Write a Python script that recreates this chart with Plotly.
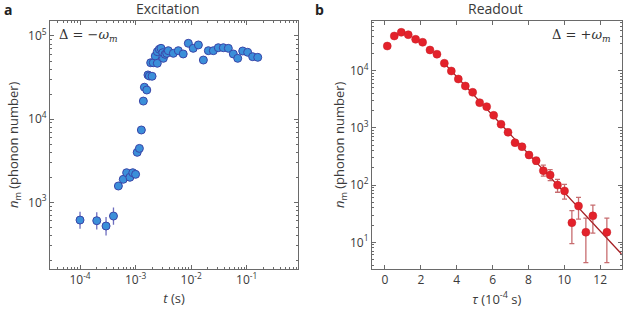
import plotly.graph_objects as go

# ---------- Panel a: Excitation ----------
t_s = [1.0e-4, 2.0e-4, 2.94e-4, 4.0e-4, 4.9e-4, 6.0e-4, 6.9e-4, 7.9e-4, 8.9e-4, 1.0e-3,
       1.07e-3, 1.17e-3, 1.27e-3, 1.38e-3, 1.44e-3, 1.59e-3, 1.67e-3, 1.77e-3, 1.98e-3, 1.87e-3,
       2.08e-3, 2.26e-3, 2.46e-3, 2.46e-3, 2.67e-3, 2.87e-3, 3.08e-3, 3.16e-3, 3.39e-3, 3.63e-3,
       3.88e-3, 4.78e-3, 5.88e-3, 7.2e-3, 8.9e-3, 1.09e-2, 1.35e-2, 1.66e-2, 2.04e-2, 2.51e-2,
       3.08e-2, 3.8e-2, 4.67e-2, 5.74e-2, 6.89e-2, 8.47e-2, 0.104, 0.128, 0.158]
n_exc = [612, 601, 519, 684, 1571, 1890, 2270, 2000, 2270, 2170,
         3990, 4450, 7410, 16500, 24200, 22400, 34000, 33000, 32800, 47700,
         47700, 57400, 47000, 64800, 69200, 71100, 63000, 53900, 60200, 61900,
         66600, 61900, 66600, 60800, 81700, 71100, 78000, 51400, 66600, 66600,
         72300, 72300, 71100, 60800, 53900, 66000, 63700, 56400, 55400]
err_exc_up = [160, 160, 145, 180, 130, 150, 180, 160, 180, 170] + [0] * 39
err_exc_dn = [130, 130, 120, 145, 115, 130, 160, 140, 160, 150] + [0] * 39

# ---------- Panel b: Readout ----------
tau = [0.13, 0.52, 0.91, 1.30, 1.71, 2.10, 2.51, 2.90, 3.31, 3.70,
       4.09, 4.48, 4.89, 5.28, 5.67, 6.06, 6.47, 6.86, 7.25, 7.64,
       8.03, 8.43, 8.83, 9.21, 9.62, 10.01, 10.42, 10.79, 11.20, 11.59, 12.37]
n_read = [27000, 40400, 46900, 42600, 35400, 31400, 23000, 19400, 13500, 9880,
          7160, 5400, 4190, 2760, 2350, 1660, 1160, 838, 551, 469,
          336, 267, 179, 150, 100, 79, 22, 43, 15, 29, 15]
err_read_up = [0] * 16 + [60, 50, 45, 45, 40, 38, 45, 37, 26, 24, 13.7, 18, 11.4, 15.7, 11.4]
err_read_dn = [0] * 16 + [55, 45, 40, 40, 36, 33, 36, 30, 25, 22, 12.5, 17.6, 10.6, 14.5, 10.6]

# exponential fit (straight line on log axis), endpoints
fit_tau = [3.3, 13.4]
fit_n = [13550, 5.3]

# tick labels
tx_a_vals = [1e-4, 1e-3, 1e-2, 1e-1]
tx_a_text = ["10<sup>-4</sup>", "10<sup>-3</sup>", "10<sup>-2</sup>", "10<sup>-1</sup>"]
ty_a_vals = [1e3, 1e4, 1e5]
ty_a_text = ["10<sup>3</sup>", "10<sup>4</sup>", "10<sup>5</sup>"]
ty_b_vals = [1e1, 1e2, 1e3, 1e4]
ty_b_text = ["10<sup>1</sup>", "10<sup>2</sup>", "10<sup>3</sup>", "10<sup>4</sup>"]

def minor_log(lo, hi):
    out = []
    for e in range(lo, hi + 1):
        for m in range(2, 10):
            out.append(m * 10.0 ** e)
    return out

FONT = "Open Sans"
TXT = "#3a3a3a"
AX = "#6a6a6a"

fig = go.Figure()

fig.add_trace(go.Scatter(
    x=t_s, y=n_exc, mode="markers",
    marker=dict(size=8, color="#3b8fd9", line=dict(color="#3a45a8", width=1)),
    error_y=dict(type="data", array=err_exc_up, arrayminus=err_exc_dn,
                 color="rgba(60,60,170,0.75)", thickness=1.3, width=0),
    xaxis="x", yaxis="y", showlegend=False))

fig.add_trace(go.Scatter(
    x=fit_tau, y=fit_n, mode="lines",
    line=dict(color="#a51d22", width=1.3),
    xaxis="x2", yaxis="y2", showlegend=False))

fig.add_trace(go.Scatter(
    x=tau, y=n_read, mode="markers",
    marker=dict(size=8, color="#e3222b", line=dict(color="#c81e26", width=0.5)),
    error_y=dict(type="data", array=err_read_up, arrayminus=err_read_dn,
                 color="rgba(175,45,50,0.7)", thickness=1.3, width=2.5),
    xaxis="x2", yaxis="y2", showlegend=False))

common = dict(showline=True, linecolor=AX, linewidth=1, mirror="ticks",
              ticks="inside", tickcolor=AX, ticklen=4, showgrid=False, zeroline=False,
              tickfont=dict(family=FONT, size=12, color=TXT))

fig.update_layout(
    width=623, height=316,
    margin=dict(l=0, r=0, t=0, b=0),
    paper_bgcolor="white", plot_bgcolor="white",
    font=dict(family=FONT, color=TXT),
    xaxis=dict(type="log", domain=[0.0803, 0.4783], range=[-4.54, -0.077],
               tickmode="array", tickvals=tx_a_vals, ticktext=tx_a_text,
               minor=dict(ticks="inside", ticklen=2, tickcolor=AX, tickmode="array",
                          tickvals=minor_log(-5, -1)),
               title=dict(text="<i>t</i> (s)", font=dict(family=FONT, size=13, color=TXT), standoff=6),
               anchor="y", **common),
    yaxis=dict(type="log", domain=[0.1487, 0.9345], range=[2.198, 5.184],
               tickmode="array", tickvals=ty_a_vals, ticktext=ty_a_text,
               minor=dict(ticks="inside", ticklen=2, tickcolor=AX, tickmode="array",
                          tickvals=minor_log(2, 5)),
               title=dict(text="<i>n</i><sub>m</sub> (phonon number)", font=dict(family=FONT, size=13, color=TXT), standoff=6),
               anchor="x", **common),
    xaxis2=dict(domain=[0.597, 0.998], range=[-0.725, 13.2], dtick=2, tick0=0,
                title=dict(text="<i>τ</i> (10<sup>-4</sup> s)", font=dict(family=FONT, size=13, color=TXT), standoff=6),
                anchor="y2", **common),
    yaxis2=dict(type="log", domain=[0.1487, 0.9345], range=[0.533, 4.874],
                tickmode="array", tickvals=ty_b_vals, ticktext=ty_b_text,
                minor=dict(ticks="inside", ticklen=2, tickcolor=AX, tickmode="array",
                           tickvals=minor_log(0, 4)),
                title=dict(text="<i>n</i><sub>m</sub> (phonon number)", font=dict(family=FONT, size=13, color=TXT), standoff=2),
                anchor="x2", **common),
)

ann = [
    dict(text="<b>a</b>", x=0.003, y=1 - 9 / 316, xanchor="left", yanchor="middle",
         font=dict(family=FONT, size=14, color="#222")),
    dict(text="<b>b</b>", x=0.502, y=1 - 9 / 316, xanchor="left", yanchor="middle",
         font=dict(family=FONT, size=14, color="#222")),
    dict(text="Excitation", x=168 / 623, y=1 - 8 / 316, xanchor="center", yanchor="middle",
         font=dict(family=FONT, size=14, color=TXT)),
    dict(text="Readout", x=495 / 623, y=1 - 8 / 316, xanchor="center", yanchor="middle",
         font=dict(family=FONT, size=14, color=TXT)),
    dict(text="Δ = −<i>ω<sub>m</sub></i>", x=57 / 623, y=1 - 36 / 316, xanchor="left", yanchor="middle",
         font=dict(family="DejaVu Serif", size=13, color="#333")),
    dict(text="Δ = +<i>ω<sub>m</sub></i>", x=613 / 623, y=1 - 36 / 316, xanchor="right", yanchor="middle",
         font=dict(family="DejaVu Serif", size=13, color="#333")),
]
for a in ann:
    a.update(xref="paper", yref="paper", showarrow=False)
fig.update_layout(annotations=ann)

fig.write_html("out.html", config={"displayModeBar": False},
               post_script="document.body.style.margin='0';document.body.style.overflow='hidden';")
